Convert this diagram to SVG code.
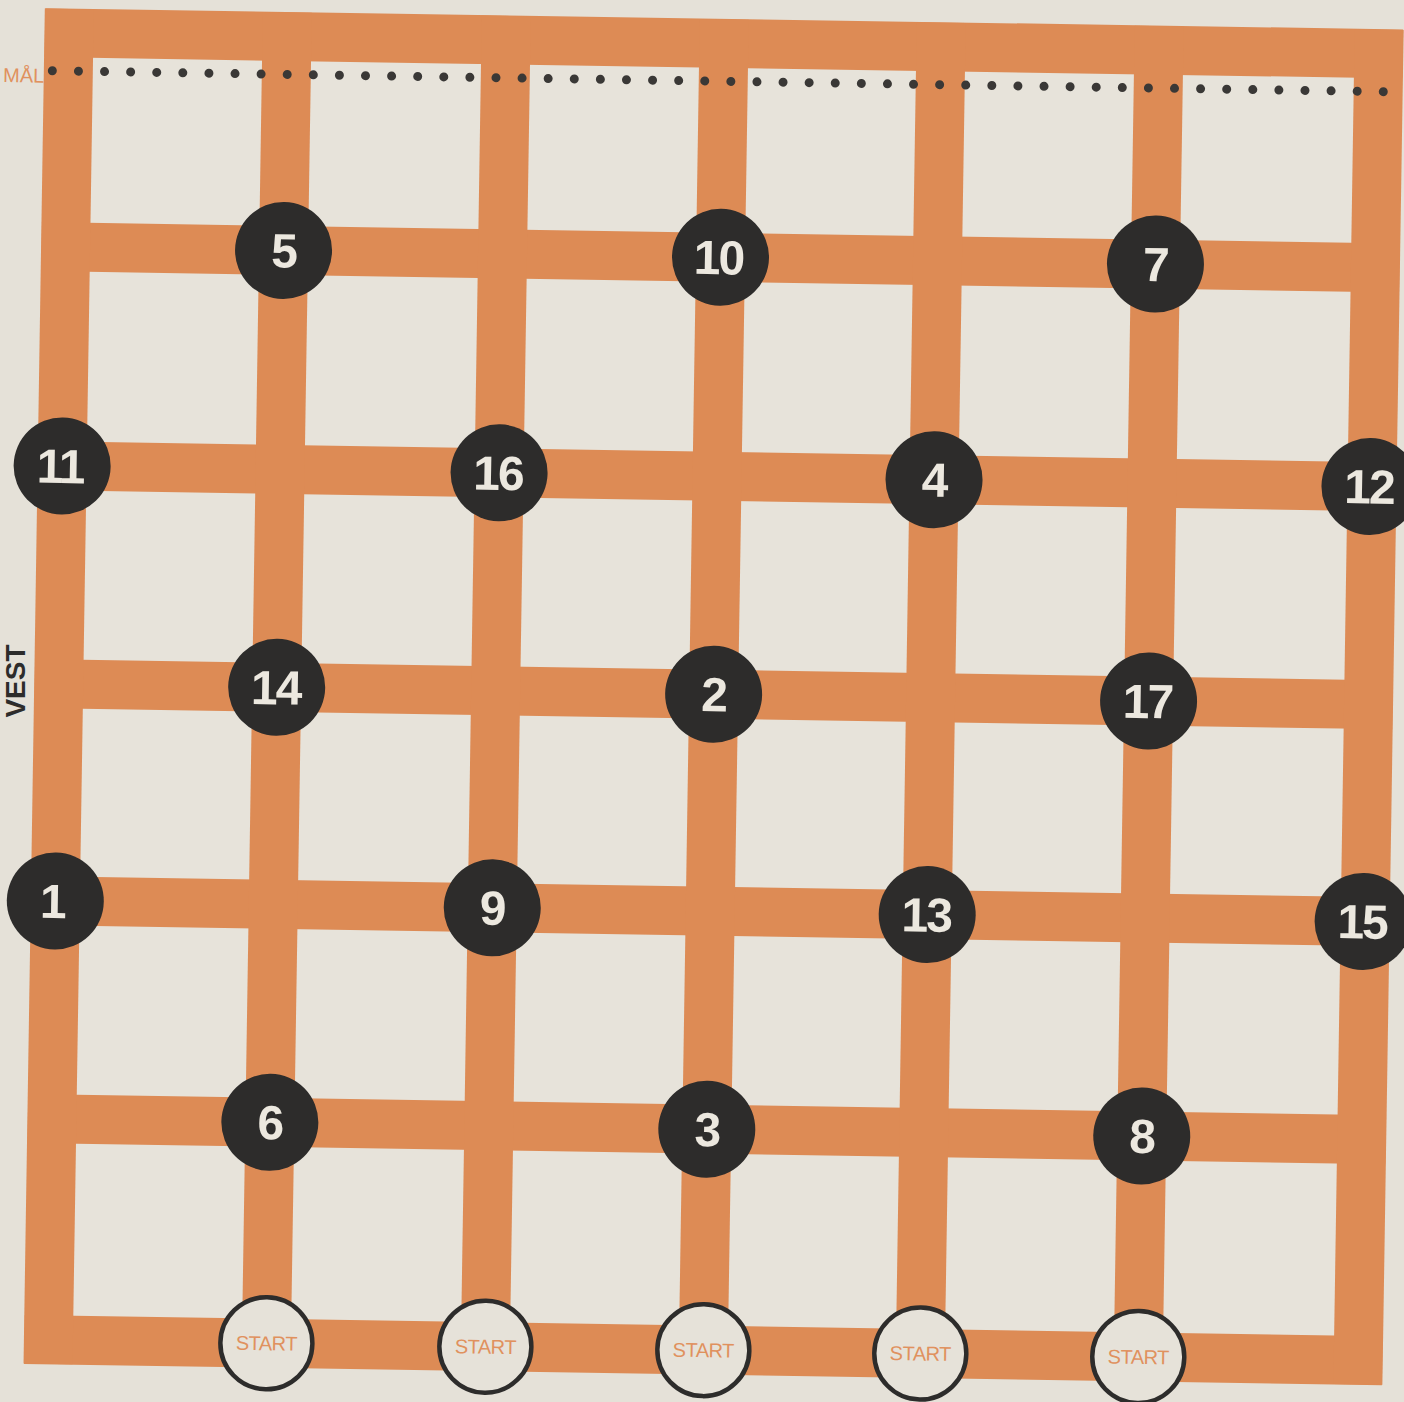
<svg xmlns="http://www.w3.org/2000/svg" width="1404" height="1402" viewBox="0 0 1404 1402">
<style>
.bar{stroke:#dd8b55;stroke-width:49;fill:none;stroke-linecap:butt}
.node circle{fill:#2d2c2b}
.node text{font-family:"Liberation Sans",Arial,sans-serif;font-weight:bold;font-size:48px;fill:#ece8df;text-anchor:middle;letter-spacing:-2px}
.start circle{fill:#e6e2d9;stroke:#2d2c2b;stroke-width:4.5}
.start text{font-family:"Liberation Sans",Arial,sans-serif;font-size:20px;fill:#e0915e;text-anchor:middle;letter-spacing:-0.5px}
</style>
<rect width="1404" height="1402" fill="#e5e1d8"/>
<g transform="translate(69,29) rotate(0.9)">
  <rect x="-24" y="-20" width="1356" height="1355" fill="#e7e3da"/>
  <g id="connectors">
    <line class="bar" x1="-24" y1="4" x2="1334" y2="4"/>
    <line class="bar" x1="-24" y1="218" x2="1334" y2="218"/>
    <line class="bar" x1="-24" y1="437" x2="1334" y2="437"/>
    <line class="bar" x1="-24" y1="655" x2="1334" y2="655"/>
    <line class="bar" x1="-24" y1="872" x2="1334" y2="872"/>
    <line class="bar" x1="-24" y1="1090" x2="1334" y2="1090"/>
    <line class="bar" x1="-24" y1="1311" x2="1334" y2="1311"/>
    <line class="bar" x1="0" y1="-20" x2="0" y2="1335"/>
    <line class="bar" x1="218" y1="-20" x2="218" y2="1335"/>
    <line class="bar" x1="437" y1="-20" x2="437" y2="1335"/>
    <line class="bar" x1="655" y1="-20" x2="655" y2="1335"/>
    <line class="bar" x1="872" y1="-20" x2="872" y2="1335"/>
    <line class="bar" x1="1090" y1="-20" x2="1090" y2="1335"/>
    <line class="bar" x1="1310" y1="-20" x2="1310" y2="1335"/>
  </g>
  <g id="goal-line">
    <path d="M-16 42 H1317" stroke="#3a3836" stroke-width="9" stroke-linecap="round" stroke-dasharray="0 26.1" fill="none"/>
    <text x="-24" y="54" font-family="'Liberation Sans',Arial,sans-serif" font-size="20" fill="#e0915e" text-anchor="end">MÅL</text>
  </g>
  <g id="n5" class="node"><circle cx="218" cy="218" r="48.5"/><text x="218" y="235">5</text></g>
  <g id="n10" class="node"><circle cx="655" cy="218" r="48.5"/><text x="653" y="235">10</text></g>
  <g id="n7" class="node"><circle cx="1090" cy="218" r="48.5"/><text x="1090" y="235">7</text></g>
  <g id="n11" class="node"><circle cx="0" cy="437" r="48.5"/><text x="-2" y="454">11</text></g>
  <g id="n16" class="node"><circle cx="437" cy="437" r="48.5"/><text x="436" y="454">16</text></g>
  <g id="n4" class="node"><circle cx="872" cy="437" r="48.5"/><text x="872" y="454">4</text></g>
  <g id="n12" class="node"><circle cx="1308" cy="437" r="48.5"/><text x="1307" y="454">12</text></g>
  <g id="n14" class="node"><circle cx="218" cy="655" r="48.5"/><text x="217" y="672">14</text></g>
  <g id="n2" class="node"><circle cx="655" cy="655" r="48.5"/><text x="655" y="672">2</text></g>
  <g id="n17" class="node"><circle cx="1090" cy="655" r="48.5"/><text x="1089" y="672">17</text></g>
  <g id="n1" class="node"><circle cx="0" cy="872" r="48.5"/><text x="-3" y="889">1</text></g>
  <g id="n9" class="node"><circle cx="437" cy="872" r="48.5"/><text x="437" y="889">9</text></g>
  <g id="n13" class="node"><circle cx="872" cy="872" r="48.5"/><text x="871" y="889">13</text></g>
  <g id="n15" class="node"><circle cx="1308" cy="872" r="48.5"/><text x="1307" y="889">15</text></g>
  <g id="n6" class="node"><circle cx="218" cy="1090" r="48.5"/><text x="218" y="1107">6</text></g>
  <g id="n3" class="node"><circle cx="655" cy="1090" r="48.5"/><text x="655" y="1107">3</text></g>
  <g id="n8" class="node"><circle cx="1090" cy="1090" r="48.5"/><text x="1090" y="1107">8</text></g>
  <g id="s1" class="start"><circle cx="218" cy="1311" r="46"/><text x="218" y="1318">START</text></g>
  <g id="s2" class="start"><circle cx="437" cy="1311" r="46"/><text x="437" y="1318">START</text></g>
  <g id="s3" class="start"><circle cx="655" cy="1311" r="46"/><text x="655" y="1318">START</text></g>
  <g id="s4" class="start"><circle cx="872" cy="1311" r="46"/><text x="872" y="1318">START</text></g>
  <g id="s5" class="start"><circle cx="1090" cy="1311" r="46"/><text x="1090" y="1318">START</text></g>
</g>
<text transform="translate(25,681) rotate(-90)" font-family="'Liberation Sans',Arial,sans-serif" font-weight="bold" font-size="28" fill="#2d2c2b" text-anchor="middle">VEST</text>
</svg>
